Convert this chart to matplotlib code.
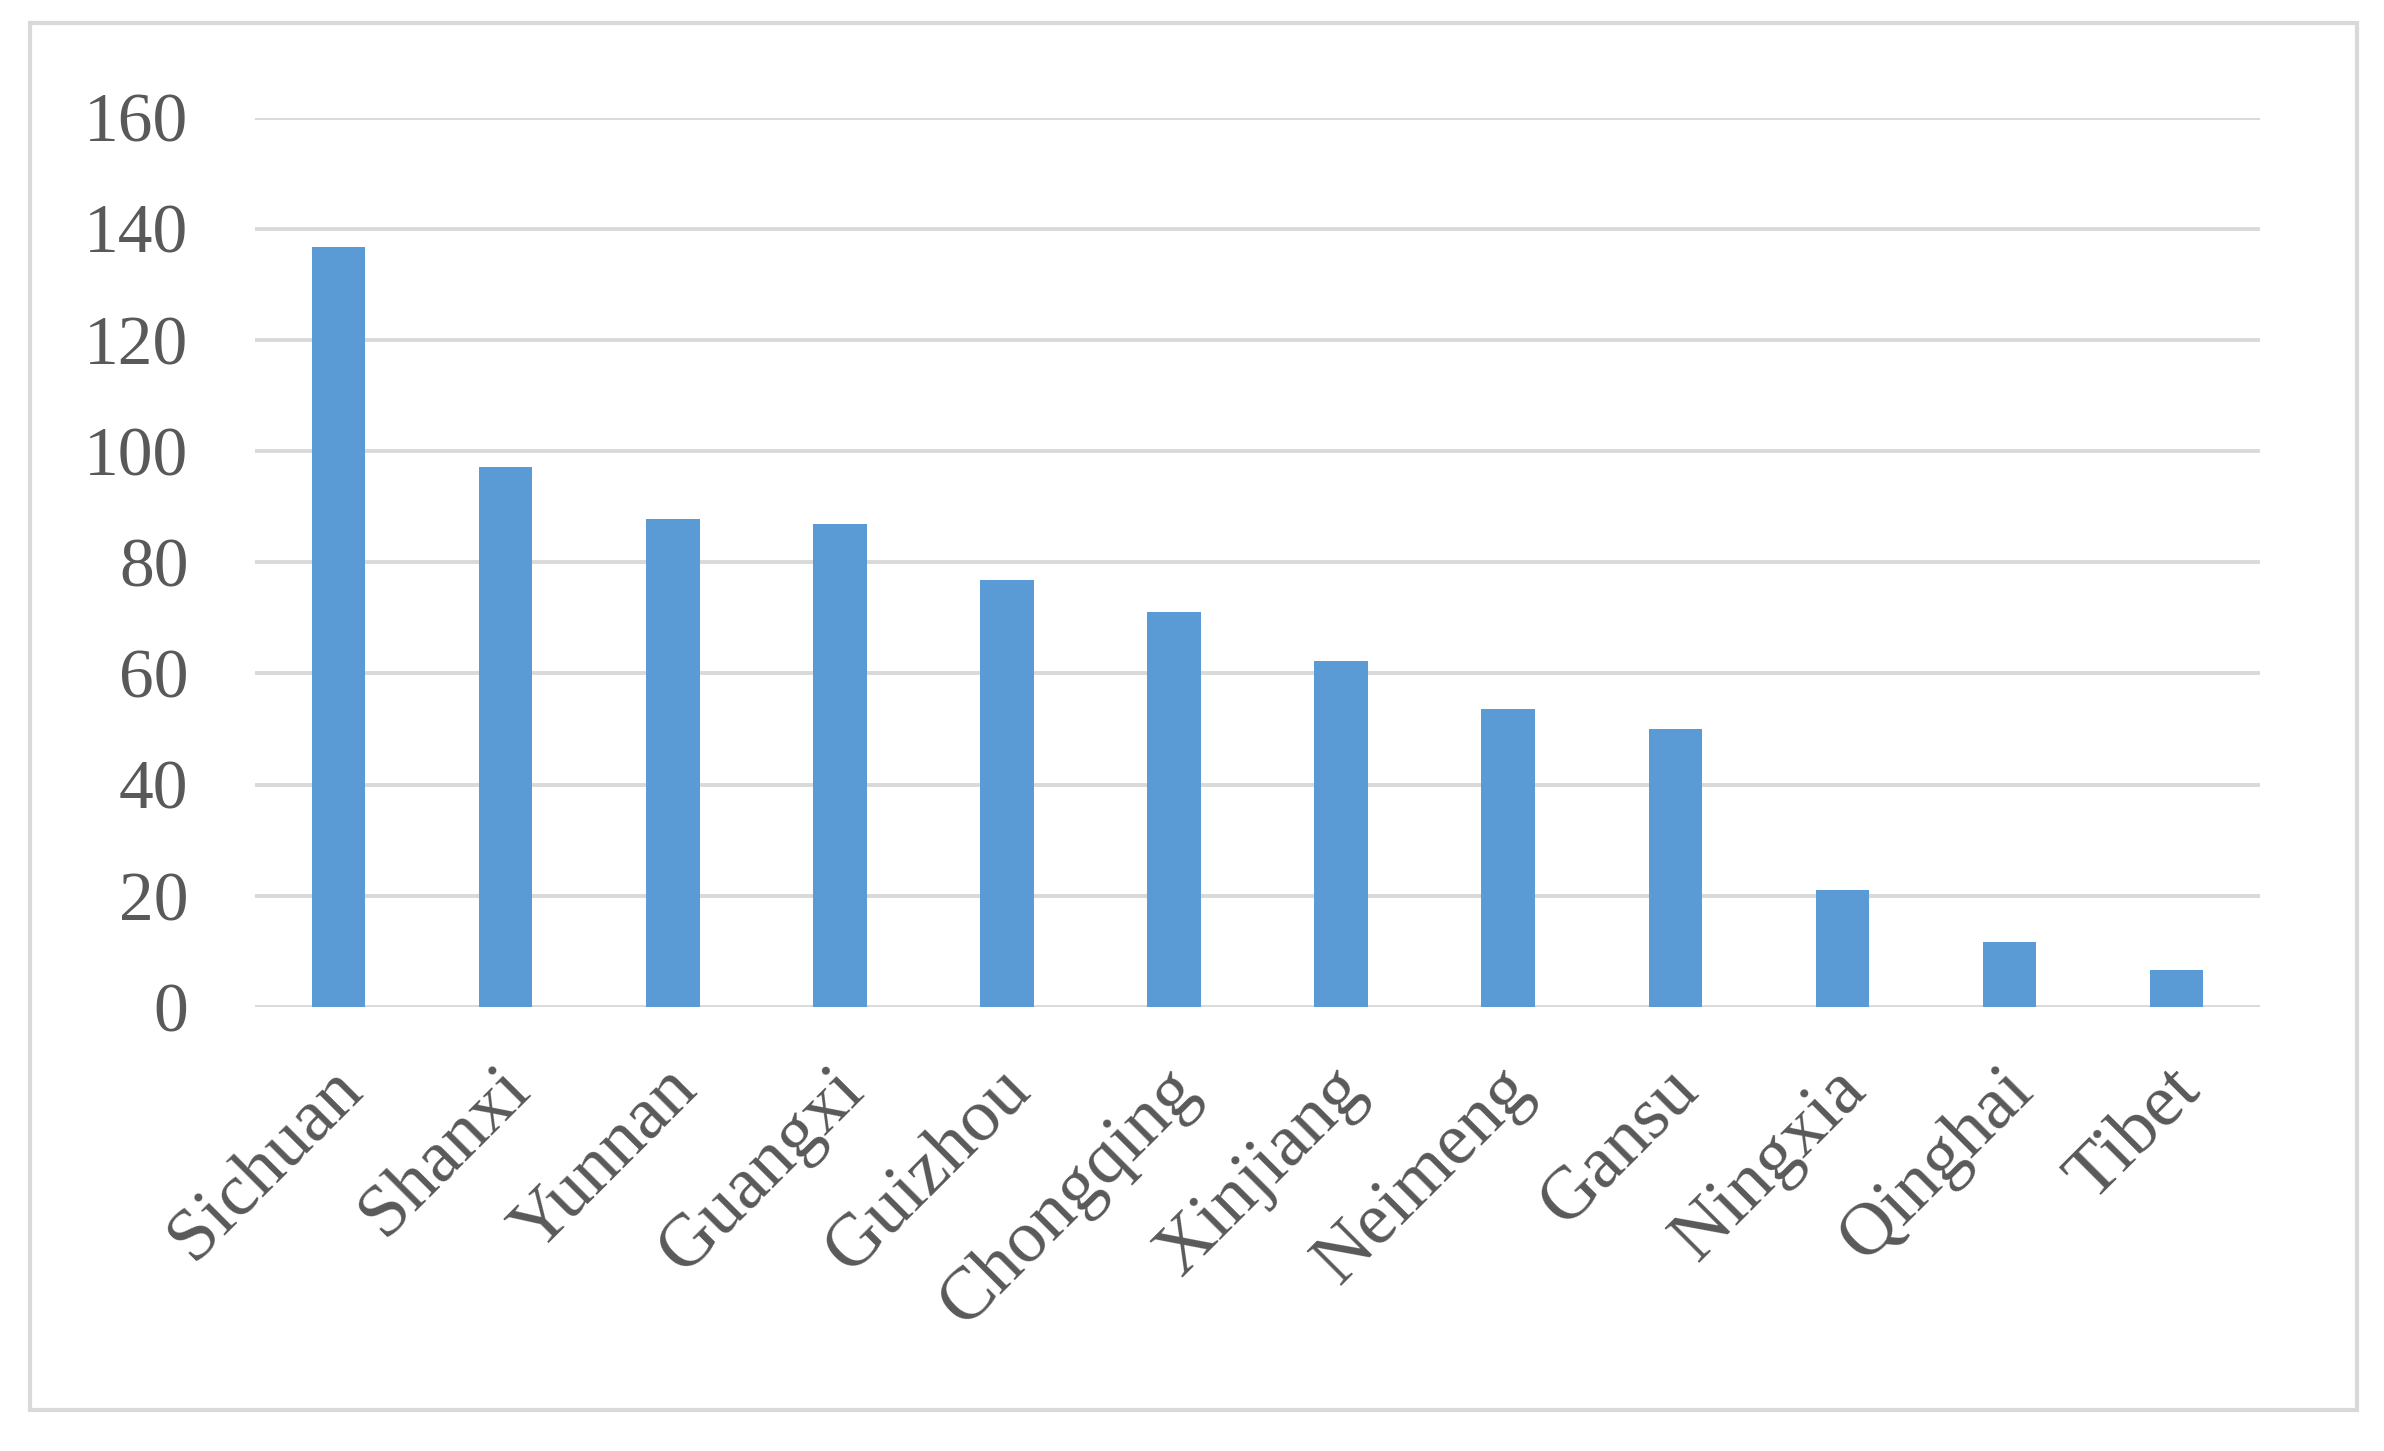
import matplotlib
matplotlib.use("Agg")
import matplotlib.pyplot as plt
import matplotlib.patches as patches

# data
provinces = ["Sichuan", "Shanxi", "Yunnan", "Guangxi", "Guizhou", "Chongqing",
             "Xinjiang", "Neimeng", "Gansu", "Ningxia", "Qinghai", "Tibet"]
counts = [136.8, 97.2, 87.7, 86.9, 76.8, 71.0, 62.3, 53.6, 50.0, 21.1, 11.7, 6.7]
yticks = [0, 20, 40, 60, 80, 100, 120, 140, 160]

text_color = "#595959"
grid_color = "#d9d9d9"
bar_color = "#5b9bd5"

plt.rcParams['font.family'] = ['Liberation Serif', 'DejaVu Serif']

fig = plt.figure(figsize=(11.92, 7.255), dpi=200)
ax = fig.add_axes([0.107, 0.306, 0.841, 0.613])

x = list(range(len(provinces)))
ax.bar(x, counts, width=0.32, color=bar_color, zorder=3)

ax.set_xlim(-0.5, len(provinces) - 0.5)
ax.set_ylim(0, 160)
ax.set_yticks(yticks)
ax.set_yticklabels([str(v) for v in yticks], fontsize=25, color=text_color)
for v in yticks:
    ax.axhline(v, color=grid_color, linewidth=1.4, zorder=1)

# shift tick positions a little right so label ends sit like the original
ax.set_xticks([i + 0.08 for i in x])
ax.set_xticklabels(provinces, fontsize=27, color=text_color,
                   rotation=45, ha='right', va='center', rotation_mode='anchor')

ax.tick_params(axis='both', length=0)
ax.tick_params(axis='y', pad=24)
ax.tick_params(axis='x', pad=26)
for s in ax.spines.values():
    s.set_visible(False)

# outer chart frame
frame = patches.Rectangle((0.0126, 0.0283), 0.976, 0.956, transform=fig.transFigure,
                          fill=False, edgecolor=grid_color, linewidth=1.5)
fig.patches.append(frame)

fig.savefig("out.png", dpi=200, facecolor="white")
